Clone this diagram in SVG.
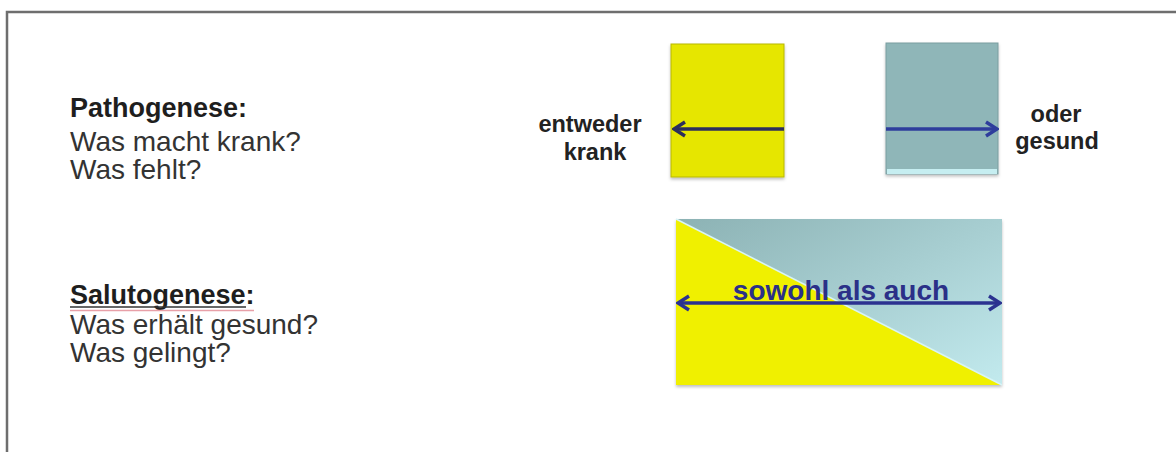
<svg xmlns="http://www.w3.org/2000/svg" width="1176" height="452" viewBox="0 0 1176 452">
  <defs>
    <linearGradient id="tealFade" x1="0" y1="0" x2="1" y2="1">
      <stop offset="0" stop-color="#8cb2b4"/>
      <stop offset="1" stop-color="#c2eaee"/>
    </linearGradient>
    <filter id="soft" x="-10%" y="-10%" width="120%" height="120%">
      <feDropShadow dx="0" dy="2" stdDeviation="1.5" flood-color="#000" flood-opacity="0.25"/>
    </filter>
    <marker id="head" viewBox="0 0 16 18" refX="14" refY="9" markerWidth="16" markerHeight="18" markerUnits="userSpaceOnUse" orient="auto-start-reverse">
      <path d="M3,2 L14,9 L3,16" fill="none" stroke="context-stroke" stroke-width="3.5" stroke-linejoin="miter"/>
    </marker>
  </defs>
  <style>
    .lbl { font-family: "Liberation Sans", Arial, sans-serif; }
    .head { font-size: 27px; font-weight: bold; fill: #1e1e1e; }
    .body { font-size: 28px; fill: #333; }
    .side { font-size: 23.5px; font-weight: bold; fill: #222; }
    .both { font-size: 28px; font-weight: bold; fill: #2b3088; }
    .arrow { fill: none; stroke-width: 3.5; }
  </style>

  <!-- page frame -->
  <path d="M7,452 V12 H1176" fill="none" stroke="#6e6e6e" stroke-width="2.5"/>

  <!-- left column text -->
  <g id="pathogenese">
    <text class="lbl head" x="70" y="117">Pathogenese:</text>
    <text class="lbl body" x="70" y="151">Was macht krank?</text>
    <text class="lbl body" x="70" y="179">Was fehlt?</text>
  </g>
  <g id="salutogenese">
    <text class="lbl head" x="70" y="304">Salutogenese:</text>
    <line x1="70" y1="307" x2="246" y2="307" stroke="#333" stroke-width="1.5"/>
    <line x1="70" y1="310.5" x2="254" y2="310.5" stroke="#e8a0a8" stroke-width="1.5"/>
    <text class="lbl body" x="70" y="334">Was erhält gesund?</text>
    <text class="lbl body" x="70" y="362">Was gelingt?</text>
  </g>

  <!-- yellow box: entweder krank -->
  <g id="krank">
    <rect x="671" y="44" width="113" height="133" fill="#e6e600" stroke="#b8b800" stroke-width="1" filter="url(#soft)"/>
    <text class="lbl side" x="590" y="132" text-anchor="middle">entweder</text>
    <text class="lbl side" x="595" y="160" text-anchor="middle">krank</text>
  </g>

  <!-- teal box: oder gesund -->
  <g id="gesund">
    <rect x="886" y="43" width="112" height="131" fill="#8fb6b8" stroke="#7a9ea0" stroke-width="1" filter="url(#soft)"/>
    <rect x="887" y="169" width="110" height="5" fill="#c6eef1"/>
    <text class="lbl side" x="1056" y="122" text-anchor="middle">oder</text>
    <text class="lbl side" x="1057" y="149" text-anchor="middle">gesund</text>
  </g>

  <!-- split box: sowohl als auch -->
  <g id="sowohl">
    <rect x="676" y="219" width="326" height="166" fill="url(#tealFade)" filter="url(#soft)"/>
    <polygon points="676,219 1002,385 676,385" fill="#f0f000"/>
    <line x1="676" y1="219" x2="1002" y2="385" stroke="#d8f4f6" stroke-width="1.5"/>
    <text class="lbl both" x="841" y="300" text-anchor="middle">sowohl als auch</text>
  </g>

  <!-- connectors -->
  <g id="connectors">
    <line class="arrow" x1="784" y1="129" x2="674" y2="129" stroke="#2c2e5c" marker-end="url(#head)"/>
    <line class="arrow" x1="886" y1="129" x2="997" y2="129" stroke="#2e3d9c" marker-end="url(#head)"/>
    <line class="arrow" x1="678" y1="303" x2="1000" y2="303" stroke="#2b3290" marker-start="url(#head)" marker-end="url(#head)"/>
  </g>
</svg>
